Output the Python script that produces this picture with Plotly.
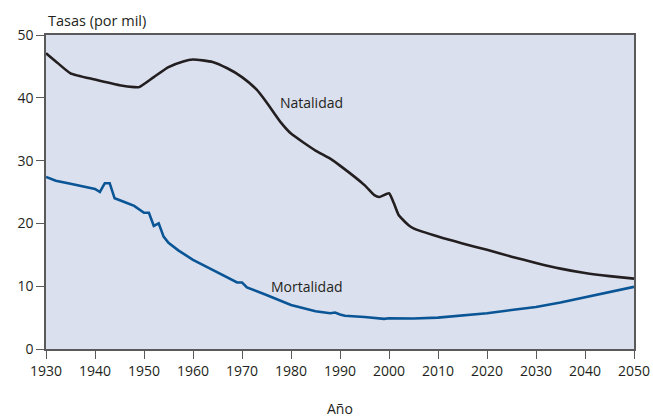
import plotly.graph_objects as go

nat_years = [1930, 1932, 1935, 1940, 1945, 1948, 1949, 1952, 1955, 1958, 1960, 1964, 1967, 1970, 1973,
             1975, 1978, 1980, 1985, 1988, 1990, 1995, 1997, 1998, 2000, 2001, 2002, 2004, 2005, 2010,
             2015, 2020, 2025, 2030, 2035, 2040, 2045, 2050]
natalidad = [47.1, 45.8, 43.9, 42.9, 42.0, 41.7, 41.7, 43.3, 44.9, 45.8, 46.1, 45.7, 44.7, 43.3, 41.3,
             39.3, 36.0, 34.3, 31.6, 30.3, 29.2, 26.1, 24.5, 24.2, 24.8, 23.2, 21.3, 19.7, 19.2, 17.9,
             16.8, 15.8, 14.7, 13.7, 12.8, 12.1, 11.6, 11.2]

mor_years = [1930, 1932, 1935, 1940, 1941, 1942, 1943, 1944, 1946, 1948, 1950, 1951, 1952, 1953, 1954,
             1955, 1957, 1960, 1962, 1965, 1967, 1969, 1970, 1971, 1975, 1978, 1980, 1982, 1985, 1988,
             1989, 1990, 1991, 1995, 1999, 2000, 2005, 2010, 2015, 2020, 2025, 2030, 2035, 2040, 2045,
             2050]
mortalidad = [27.4, 26.8, 26.3, 25.5, 25.0, 26.4, 26.4, 24.0, 23.4, 22.8, 21.7, 21.7, 19.6, 20.0, 17.9,
              16.9, 15.7, 14.2, 13.4, 12.2, 11.4, 10.6, 10.6, 9.8, 8.6, 7.7, 7.0, 6.6, 6.0, 5.7,
              5.8, 5.5, 5.3, 5.1, 4.8, 4.9, 4.85, 5.0, 5.35, 5.7, 6.2, 6.7, 7.4, 8.2, 9.0,
              9.9]

x_ticks = [1930, 1940, 1950, 1960, 1970, 1980, 1990, 2000, 2010, 2020, 2030, 2040, 2050]
y_ticks = [0, 10, 20, 30, 40, 50]

FONT = "Open Sans"
TXT = "#231f20"
AX = "#5a5a5a"

fig = go.Figure()
fig.add_trace(go.Scatter(x=nat_years, y=natalidad, mode="lines",
                         line=dict(color="#231f20", width=2.6, shape="spline", smoothing=0.5),
                         showlegend=False, hoverinfo="skip"))
fig.add_trace(go.Scatter(x=mor_years, y=mortalidad, mode="lines",
                         line=dict(color="#0a5596", width=2.6, shape="linear"),
                         showlegend=False, hoverinfo="skip"))

fig.add_annotation(x=1977.3, y=39.2, text="Natalidad", showarrow=False, xanchor="left",
                   yanchor="middle", font=dict(family=FONT, size=14, color=TXT))
fig.add_annotation(x=1975.6, y=9.95, text="Mortalidad", showarrow=False, xanchor="left",
                   yanchor="middle", font=dict(family=FONT, size=14, color=TXT))
fig.add_annotation(x=0, y=1, xref="paper", yref="paper", text="Tasas (por mil)", showarrow=False,
                   xanchor="left", yanchor="middle", yshift=15,
                   font=dict(family=FONT, size=14.5, color=TXT))
fig.add_annotation(x=0.5, y=-0.19, xref="paper", yref="paper", text="Año", showarrow=False,
                   xanchor="center", yanchor="middle",
                   font=dict(family=FONT, size=14, color=TXT))

fig.update_layout(
    width=653, height=417,
    margin=dict(l=46, r=19, t=35, b=68, autoexpand=False),
    paper_bgcolor="white", plot_bgcolor="#dbe0ee",
    font=dict(family=FONT, size=14, color=TXT),
    xaxis=dict(range=[1930, 2050], tickvals=x_ticks, ticks="outside", ticklen=8, tickcolor=AX,
               showgrid=False, zeroline=False, showline=True, linecolor=AX, linewidth=1.5,
               mirror=True, automargin=False, tickfont=dict(size=14)),
    yaxis=dict(range=[0, 50], tickvals=y_ticks, ticks="outside", ticklen=8, tickcolor=AX,
               showgrid=False, zeroline=False, showline=True, linecolor=AX, linewidth=1.5,
               mirror=True, automargin=False, tickfont=dict(size=14)),
)

fig.write_html("out.html", config={"displayModeBar": False},
               post_script="document.body.style.margin='0';document.body.style.overflow='hidden';")
